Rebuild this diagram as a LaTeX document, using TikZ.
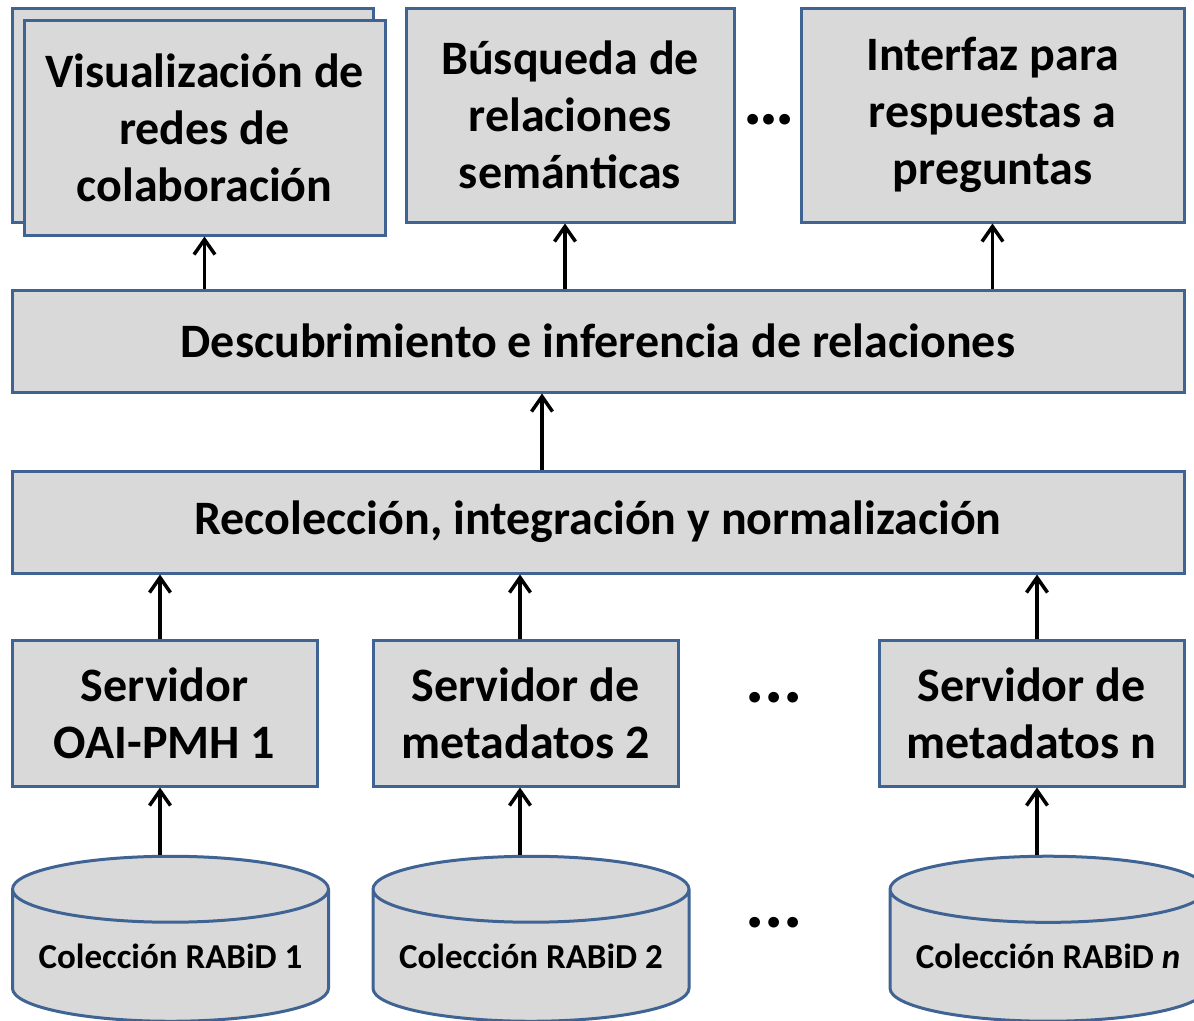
\documentclass[tikz,border=0pt]{standalone}
\usepackage{fontspec}
\setmainfont{Carlito}
\usetikzlibrary{positioning,arrows.meta,shapes.geometric,calc}

\definecolor{boxblue}{HTML}{3F6393}
\definecolor{boxgray}{HTML}{D9D9D9}

\begin{document}
\begin{tikzpicture}[
    x=1pt, y=-1pt,
    box/.style={rectangle, draw=boxblue, fill=boxgray, line width=3pt, align=center, inner sep=0pt, font=\bfseries\fontsize{48}{57}\selectfont},
    app/.style={box, minimum width=328pt, minimum height=214pt},
    layer/.style={box, minimum width=1172pt, minimum height=102pt},
    server/.style={box, minimum width=305pt, minimum height=146pt},
    coll/.style={cylinder, shape border rotate=90, draw=boxblue, fill=boxgray, line width=3pt, aspect=0.25, minimum width=316pt, minimum height=165pt, inner sep=0pt, font=\bfseries\fontsize{35}{40}\selectfont},
    dots/.style={font=\bfseries\fontsize{72}{72}\selectfont, inner sep=0pt},
    arrow/.style={line width=3.5pt, -{Straight Barb[length=15pt,width=21pt,line width=3.5pt]}}
]
\useasboundingbox (0,0) rectangle (1194,1020);

% Row 1: applications
\node[box, minimum width=361pt, minimum height=214pt] (visback) at (192.5,115) {};
\node[box, minimum width=361pt, minimum height=215pt] (vis) at (204.5,127.5) {Visualización de\\redes de\\colaboración};
\node[app] (bus) at (570,115) {Búsqueda de\\relaciones\\semánticas};
\node[app, minimum width=383pt] (int) at (992.5,115) {Interfaz para\\respuestas a\\preguntas};
\node[dots] (appdots) at (769,120) {…};

% Row 2 and 3: layers
\node[layer] (desc) at (598,341) {Descubrimiento e inferencia de relaciones};
\node[layer, below=76pt of desc] (rec) {Recolección, integración y normalización};

% Row 4: servers
\node[server] (srv1) at (164.5,713) {Servidor\\OAI-PMH 1};
\node[server, right=53pt of srv1] (srv2) {Servidor de\\metadatos 2};
\node[server] (srv3) at (1031.5,713) {Servidor de\\metadatos n};
\node[dots] (srvdots) at (774,698) {...};

% Row 5: collections
\node[coll] (col1) at (170.5,956) {Colección RABiD 1};
\node[coll] (col2) at (531,956) {Colección RABiD 2};
\node[coll] (col3) at (1048,956) {Colección RABiD \textit{n}};
\node[dots] (coldots) at (774,923) {...};

% connectors
\draw[arrow] (desc.north -| vis) -- (vis.south);
\draw[arrow] ([xshift=-5pt]desc.north -| bus) -- ([xshift=-5pt]bus.south);
\draw[arrow] (desc.north -| int) -- (int.south);
\draw[arrow] ([xshift=-56pt]rec.north) -- ([xshift=-56pt]desc.south);
\draw[arrow] ([xshift=-4.5pt]srv1.north) -- ([xshift=-4.5pt]srv1.north |- rec.south);
\draw[arrow] ([xshift=-5.5pt]srv2.north) -- ([xshift=-5.5pt]srv2.north |- rec.south);
\draw[arrow] ([xshift=5.5pt]srv3.north) -- ([xshift=5.5pt]srv3.north |- rec.south);
\draw[arrow] ([xshift=-10.5pt]col1.north) -- ([xshift=-10.5pt]col1.north |- srv1.south);
\draw[arrow] ([xshift=-11pt]col2.north) -- ([xshift=-11pt]col2.north |- srv2.south);
\draw[arrow] ([xshift=-11pt]col3.north) -- ([xshift=-11pt]col3.north |- srv3.south);

\end{tikzpicture}
\end{document}
